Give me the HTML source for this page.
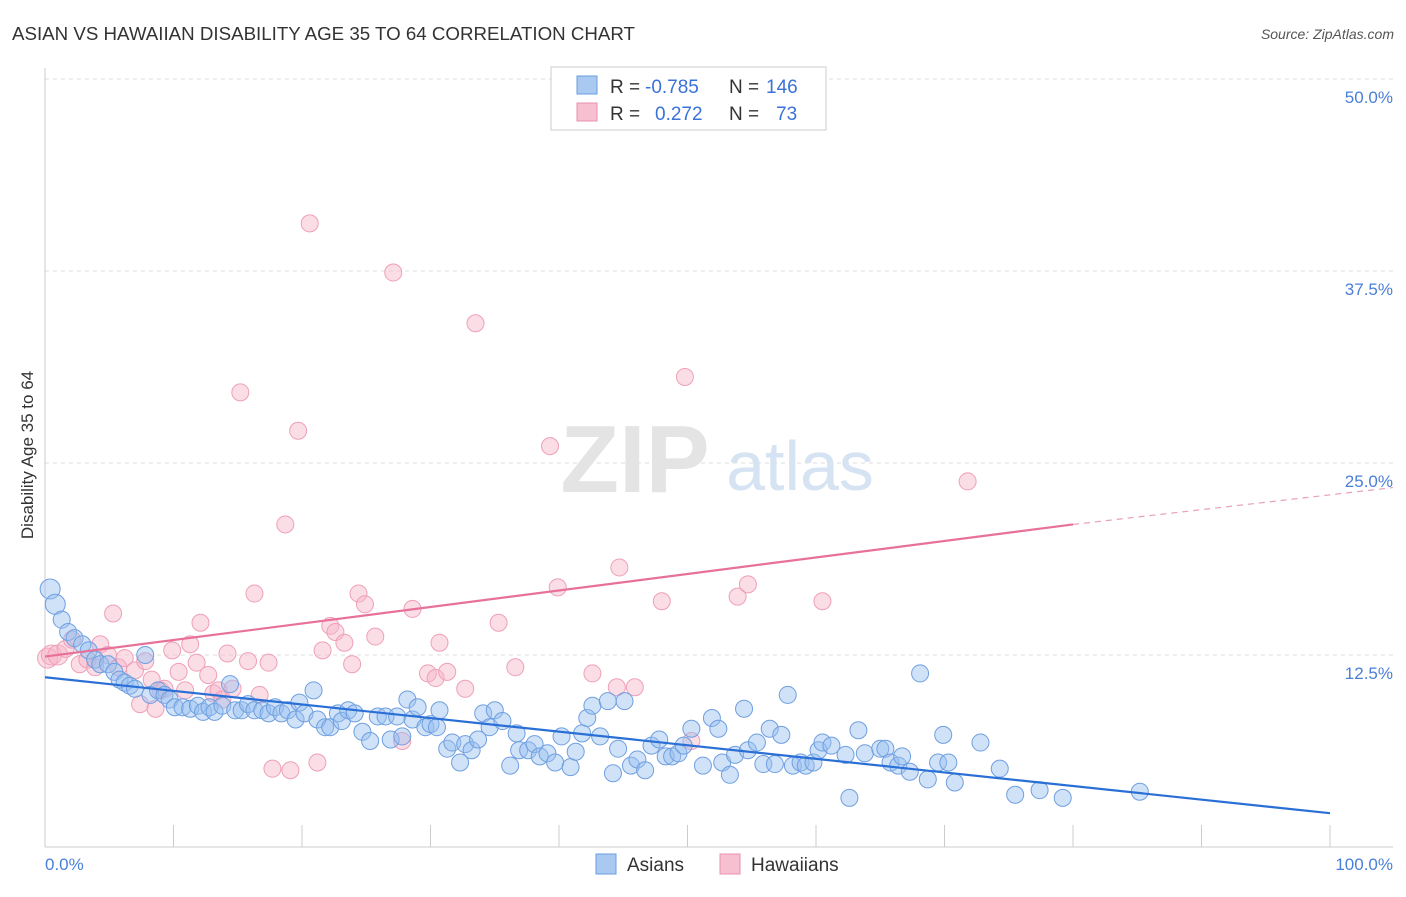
<!DOCTYPE html>
<html><head><meta charset="utf-8"><style>
body{margin:0;background:#fff;font-family:"Liberation Sans",sans-serif;}
svg text{font-family:"Liberation Sans",sans-serif;}
</style></head><body>
<svg id="chart" width="1406" height="892" viewBox="0 0 1406 892" xmlns="http://www.w3.org/2000/svg">
<text x="12" y="40" font-size="18.5" fill="#333" textLength="623" lengthAdjust="spacingAndGlyphs">ASIAN VS HAWAIIAN DISABILITY AGE 35 TO 64 CORRELATION CHART</text>
<text x="1394" y="39" font-size="14" fill="#555" text-anchor="end" font-style="italic">Source: ZipAtlas.com</text>
<g id="grid"></g>
<g>
<text x="635" y="492" font-size="96" fill="#e4e4e4" text-anchor="middle" font-family="Liberation Serif" font-weight="bold">ZIP</text>
<text x="800" y="490" font-size="70" fill="#d6e3f3" text-anchor="middle">atlas</text>
</g>
<g id="marks"></g>
<text transform="translate(33,455) rotate(-90)" font-size="17" fill="#333" text-anchor="middle">Disability Age 35 to 64</text>
<g>
<rect x="551" y="67" width="275" height="63" fill="#fff" stroke="#ccc"/>
<rect x="577" y="76" width="20" height="18" fill="#a9c9f0" stroke="#6a9ee0"/>
<rect x="577" y="103" width="20" height="18" fill="#f7c0d0" stroke="#e890ab"/>
<text x="610" y="93" font-size="19" fill="#333">R =</text>
<text x="645" y="93" font-size="19" fill="#3a72d8">-0.785</text>
<text x="729" y="93" font-size="19" fill="#333">N =</text>
<text x="766" y="93" font-size="19" fill="#3a72d8">146</text>
<text x="610" y="120" font-size="19" fill="#333">R =</text>
<text x="655" y="120" font-size="19" fill="#3a72d8">0.272</text>
<text x="729" y="120" font-size="19" fill="#333">N =</text>
<text x="776" y="120" font-size="19" fill="#3a72d8">73</text>
</g>
<g>
<rect x="596" y="854" width="20" height="20" fill="#a9c9f0" stroke="#6a9ee0"/>
<text x="627" y="871" font-size="19" fill="#333">Asians</text>
<rect x="720" y="854" width="20" height="20" fill="#f7c0d0" stroke="#e890ab"/>
<text x="751" y="871" font-size="19" fill="#333">Hawaiians</text>
</g>
</svg>
<script>
const yTicks=[12.5,25,37.5,50];
const yTickLabels=["12.5%","25.0%","37.5%","50.0%"];
const xTickLabels=["0.0%","100.0%"];
const asianX=[0.4,0.8,1.3,1.8,2.3,2.9,3.4,3.9,4.3,4.9,5.4,5.8,6.2,6.6,7,7.8,8.2,8.8,9.3,9.7,10.1,10.7,11.3,11.9,12.3,12.8,13.2,13.8,14.4,14.8,15.3,15.8,16.3,16.9,17.4,17.9,18.4,18.9,19.5,19.8,20.2,20.9,21.2,21.8,22.2,22.8,23.1,23.6,24.1,24.7,25.3,25.9,26.5,26.9,27.4,27.8,28.2,28.6,29,29.6,30,30.5,30.7,31.3,31.7,32.3,32.7,33.2,33.7,34.1,34.6,35,35.6,36.2,36.7,36.9,37.6,38.1,38.5,39.1,39.7,40.2,40.9,41.3,41.8,42.2,42.6,43.2,43.8,44.2,44.6,45.1,45.6,46.1,46.7,47.2,47.8,48.3,48.8,49.3,49.7,50.3,51.2,51.9,52.4,52.7,53.3,53.7,54.4,54.7,55.4,55.9,56.4,56.8,57.3,57.8,58.2,58.8,59.2,59.8,60.2,60.5,61.2,62.3,62.6,63.3,63.8,65,65.4,65.8,66.4,66.7,67.3,68.1,68.7,69.5,69.9,70.3,70.8,72.8,74.3,75.5,77.4,79.2,85.2];
const asianY=[16.8,15.8,14.8,14,13.6,13.2,12.8,12.2,11.9,11.9,11.4,10.9,10.7,10.5,10.3,12.5,9.9,10.2,9.9,9.6,9.1,9.1,9,9.2,8.8,9.1,8.8,9.2,10.6,8.9,8.9,9.3,8.9,8.9,8.7,9.1,8.7,8.9,8.3,9.4,8.7,10.2,8.3,7.8,7.8,8.7,8.2,8.9,8.7,7.5,6.9,8.5,8.5,7.0,8.5,7.2,9.6,8.3,9.1,7.8,8.0,7.8,8.9,6.4,6.8,5.5,6.7,6.3,7.0,8.7,7.8,8.9,8.2,5.3,7.4,6.3,6.3,6.7,5.9,6.1,5.5,7.2,5.2,6.2,7.4,8.4,9.2,7.2,9.5,4.8,6.4,9.5,5.3,5.7,5.0,6.6,7.0,5.9,5.9,6.1,6.6,7.7,5.3,8.4,7.7,5.5,4.7,6.0,9.0,6.3,6.8,5.4,7.7,5.4,7.3,9.9,5.3,5.5,5.3,5.5,6.3,6.8,6.6,6.0,3.2,7.6,6.1,6.4,6.4,5.5,5.3,5.9,4.9,11.3,4.4,5.5,7.3,5.5,4.2,6.8,5.1,3.4,3.7,3.2,3.6,1.6];
const hawX=[0.2,0.5,1,1.6,2.1,2.7,3.3,3.9,4.3,4.9,5.3,5.7,6.2,7,7.4,7.8,8.3,8.6,9,9.3,9.9,10.4,10.9,11.3,11.8,12.1,12.7,13.1,13.5,13.8,14.2,14.6,15.2,15.8,16.3,16.7,17.4,17.7,18.7,19.1,19.7,20.6,21.2,21.6,22.2,22.6,23.3,23.9,24.4,24.9,25.7,27.1,27.8,28.6,29.8,30.4,30.7,31.3,32.7,33.5,35.3,36.6,39.3,39.9,42.6,44.5,44.7,45.9,48,49.8,50.3,53.9,54.7,60.5,71.8];
const hawY=[12.3,12.5,12.5,12.9,13.5,11.9,12.2,11.7,13.2,12.5,15.2,11.7,12.3,11.5,9.3,12.1,10.9,9.0,10.2,10.3,12.8,11.4,10.2,13.2,12.0,14.6,11.2,10.0,10.2,9.6,12.6,10.3,29.6,12.1,16.5,9.9,12.0,5.1,21.0,5.0,27.1,40.6,5.5,12.8,14.4,14.0,13.3,11.9,16.5,15.8,13.7,37.4,6.9,15.5,11.3,11.0,13.3,11.4,10.3,34.1,14.6,11.7,26.1,16.9,11.3,10.4,18.2,10.4,16.0,30.6,6.9,16.3,17.1,16.0,23.8];
const asianLine=[11.05,2.2];
const hawLine=[12.4,21.0,23.4];
const X0=45,X1=1330,Y0=847,Y1=79;
const xs=v=>X0+(X1-X0)*v/100;
const ys=v=>Y0-(Y0-Y1)*v/50;
const NS="http://www.w3.org/2000/svg";
const grid=document.getElementById('grid');
const marks=document.getElementById('marks');
function mk(t,a,p){const e=document.createElementNS(NS,t);for(const k in a)e.setAttribute(k,a[k]);p.appendChild(e);return e;}
yTicks.forEach((t,i)=>{
 const l=mk('line',{x1:45,x2:1393,y1:ys(t),y2:ys(t),stroke:'#ddd','stroke-dasharray':'4,4'},grid);
 
 
 const tx=mk('text',{x:1393,y:ys(t)+24,'font-size':17,fill:'#4a7fd8','text-anchor':'end'},grid);
 tx.textContent=yTickLabels[i];
 
 
});
const ax=mk('line',{x1:45,x2:1393,y1:847,y2:847,stroke:'#ccc'},grid);


const ay=mk('line',{x1:45,x2:45,y1:68,y2:847,stroke:'#ccc'},grid);


for(let i=0;i<=10;i++){
 const t=mk('line',{x1:xs(i*10),x2:xs(i*10),y1:825,y2:847,stroke:'#ccc'},grid);
 
 
}
const xl0=mk('text',{x:45,y:870,'font-size':17,fill:'#4a7fd8'},grid);xl0.textContent=xTickLabels[0];


const xl1=mk('text',{x:1393,y:870,'font-size':17,fill:'#4a7fd8','text-anchor':'end'},grid);xl1.textContent=xTickLabels[1];


hawX.forEach((x,i)=>{
 const c=mk('circle',{cx:xs(x),cy:ys(hawY[i]),r:i<3?10:8.5,fill:'rgba(247,180,200,0.45)',stroke:'#eea0b8','stroke-width':1},marks);
 
 
});
asianX.forEach((x,i)=>{
 const c=mk('circle',{cx:xs(x),cy:ys(asianY[i]),r:i<2?10:8.5,fill:'rgba(150,190,240,0.45)',stroke:'#6f9fe0','stroke-width':1},marks);
 
 
});
const bl=mk('line',{x1:xs(0),y1:ys(asianLine[0]),x2:xs(100),y2:ys(asianLine[1]),stroke:'#2a6fd6','stroke-width':2.2},marks);


const pl=mk('line',{x1:xs(0),y1:ys(hawLine[0]),x2:xs(80),y2:ys(hawLine[1]),stroke:'#e8719a','stroke-width':2.2},marks);


const pd=mk('line',{x1:xs(80),y1:ys(hawLine[1]),x2:1393,y2:ys(hawLine[2]),stroke:'#e8a0b8','stroke-width':1.2,'stroke-dasharray':'6,5'},marks);


</script>
</body></html>
